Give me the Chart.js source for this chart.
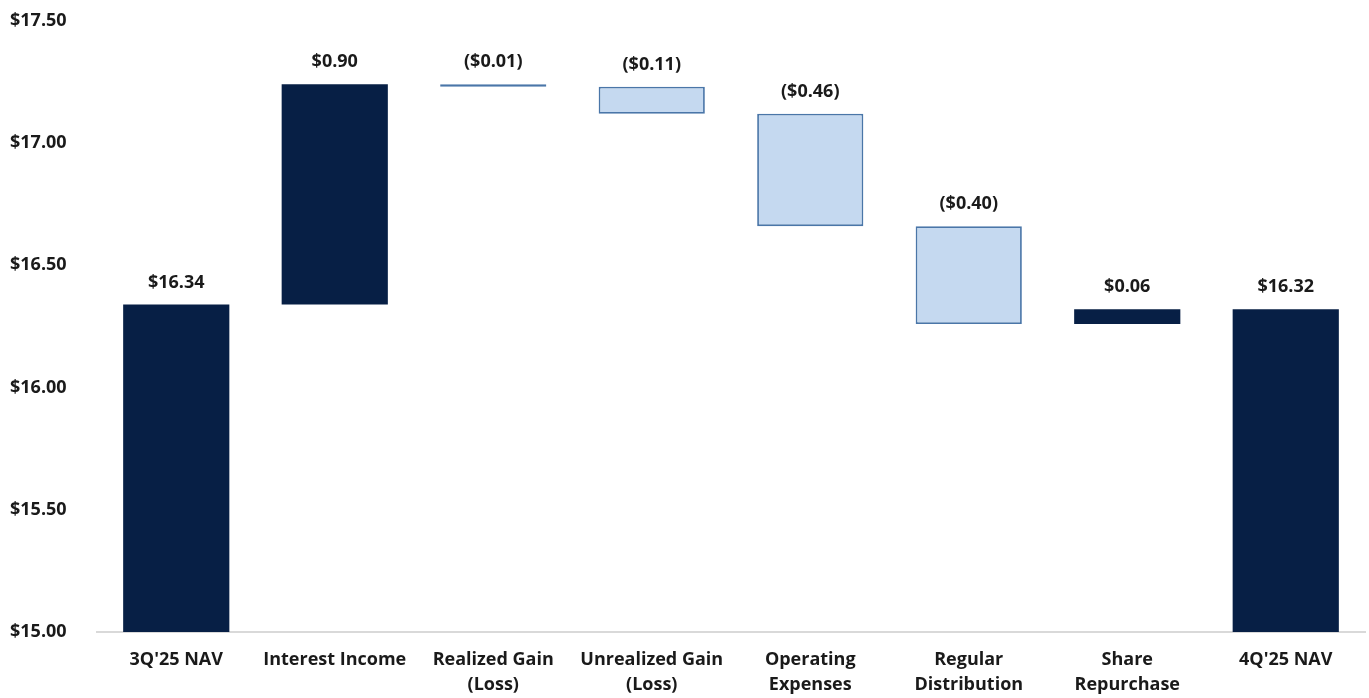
<!DOCTYPE html>
<html>
<head>
<meta charset="utf-8">
<script src="https://cdn.jsdelivr.net/npm/chart.js@4"></script>
<style>
  html, body { margin: 0; padding: 0; background: #fff; }
  #wrap { width: 1369px; height: 698px; position: relative; }
</style>
</head>
<body>
<div id="wrap"><canvas id="chartCanvas"></canvas></div>
<script>
// NAV bridge data
const categories = [
  "3Q'25 NAV", 'Interest Income', ['Realized Gain', '(Loss)'], ['Unrealized Gain', '(Loss)'],
  ['Operating', 'Expenses'], ['Regular', 'Distribution'], ['Share', 'Repurchase'], "4Q'25 NAV"
];
const barStart = [15.00, 16.34, 17.24, 17.23, 17.12, 16.66, 16.26, 15.00];
const barEnd   = [16.34, 17.24, 17.23, 17.12, 16.66, 16.26, 16.32, 16.32];
const valueLabels = ['$16.34', '$0.90', '($0.01)', '($0.11)', '($0.46)', '($0.40)', '$0.06', '$16.32'];
const yTicks = [15.0, 15.5, 16.0, 16.5, 17.0, 17.5];

const DARK = '#071f45';
const LIGHT = '#c5d9f0';
const LIGHT_EDGE = '#4a76a8';
const FONT = '"Open Sans", "Liberation Sans", Arial, sans-serif';

// a bar going down gets the light fill
const isDrop = barStart.map((s, i) => barEnd[i] < s);

// draw the value text over each bar
const valueLabelPlugin = {
  id: 'valueLabels',
  afterDatasetsDraw(chart) {
    const ctx = chart.ctx;
    const meta = chart.getDatasetMeta(0);
    const yScale = chart.scales.y;
    ctx.save();
    ctx.font = '700 18px ' + FONT;
    ctx.fillStyle = '#1a1a1a';
    ctx.textAlign = 'center';
    ctx.textBaseline = 'bottom';
    meta.data.forEach((bar, i) => {
      const top = yScale.getPixelForValue(Math.max(barStart[i], barEnd[i]));
      ctx.fillText(valueLabels[i], bar.x, top - 13);
    });
    ctx.restore();
  }
};

const ctx = document.getElementById('chartCanvas').getContext('2d');
new Chart(ctx, {
  type: 'bar',
  data: {
    labels: categories,
    datasets: [{
      data: barStart.map((s, i) => [s, barEnd[i]]),
      backgroundColor: isDrop.map(d => d ? LIGHT : DARK),
      borderColor: isDrop.map(d => d ? LIGHT_EDGE : DARK),
      borderWidth: isDrop.map(d => d ? 1.8 : 0),
      borderSkipped: false,
      barPercentage: 0.67,
      categoryPercentage: 1.0
    }]
  },
  options: {
    responsive: true,
    maintainAspectRatio: false,
    animation: false,
    layout: { padding: { top: 8, right: 4, left: 10, bottom: 0 } },
    plugins: { legend: { display: false }, tooltip: { enabled: false } },
    scales: {
      x: {
        grid: { display: false },
        border: { display: true, color: '#d9d9d9', width: 2 },
        afterFit(scale) { scale.height = 66; },
        ticks: {
          color: '#1a1a1a',
          font: { family: FONT, size: 18, weight: '700', lineHeight: 1.4 },
          padding: 7,
          maxRotation: 0,
          autoSkip: false
        }
      },
      y: {
        min: 15,
        max: 17.5,
        afterBuildTicks(scale) { scale.ticks = yTicks.map(v => ({ value: v })); },
        afterFit(scale) { scale.width = 87; },
        grid: { display: false },
        border: { display: false },
        ticks: {
          color: '#1a1a1a',
          font: { family: FONT, size: 18, weight: '700' },
          crossAlign: 'far',
          padding: 10,
          callback: v => '$' + Number(v).toFixed(2)
        }
      }
    }
  },
  plugins: [valueLabelPlugin]
});
</script>
</body>
</html>
